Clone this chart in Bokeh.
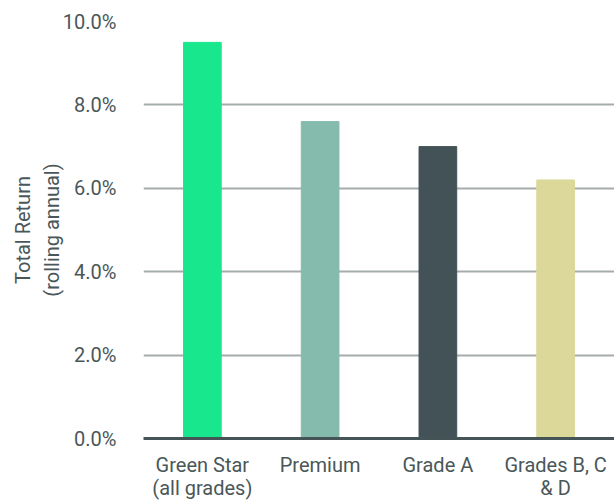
from bokeh.plotting import figure
from bokeh.models import (FactorRange, Range1d, SingleIntervalTicker, ColumnDataSource,
                          CategoricalAxis)
from bokeh.embed import file_html
from bokeh.resources import INLINE

categories = ["Green Star", "Premium", "Grade A", "Grades B, C"]
label_line2 = ["(all grades)", " ", "  ", "& D"]
returns = [9.5, 7.6, 7.0, 6.2]
colors = ["#19e78d", "#85bbad", "#435256", "#dbd89a"]
y_ticks = [0, 2, 4, 6, 8, 10]

FONT = "Roboto"
TEXT = "#4a5759"

src = ColumnDataSource(dict(cat=categories, val=returns, color=colors))

p = figure(x_range=FactorRange(*categories, range_padding=0), y_range=Range1d(0, 10),
           width=614, height=503, output_backend="svg", toolbar_location=None,
           min_border_left=143, min_border_right=0, min_border_top=21, min_border_bottom=65)
p.extra_x_ranges = {"line2": FactorRange(*label_line2, range_padding=0)}
p.outline_line_color = None
p.background_fill_color = "white"
p.border_fill_color = "white"

p.vbar(x="cat", top="val", width=0.32, color="color", source=src)

p.xgrid.grid_line_color = None
p.ygrid.grid_line_color = "#a5acab"
p.ygrid.grid_line_width = 2
p.ygrid.ticker = SingleIntervalTicker(interval=2)

p.yaxis.ticker = SingleIntervalTicker(interval=2)
p.yaxis.axis_line_color = None
p.yaxis.major_tick_line_color = None
p.yaxis.minor_tick_line_color = None
p.yaxis.major_label_standoff = 21
p.yaxis.axis_label = "Total Return\n(rolling annual)"
p.yaxis.axis_label_standoff = -4
p.yaxis.major_label_overrides = {t: f"{t:.1f}%" for t in y_ticks}

p.xaxis.axis_line_color = "#455457"
p.xaxis.axis_line_width = 3
p.xaxis.major_tick_line_color = None
p.xaxis.minor_tick_line_color = None
p.xaxis.major_tick_out = 0
p.xaxis.major_tick_in = 0
p.xaxis.major_label_standoff = 14

x2 = CategoricalAxis(x_range_name="line2",
                     axis_line_color=None, major_tick_line_color=None,
                     minor_tick_line_color=None, major_tick_out=0, major_tick_in=0,
                     minor_tick_out=0, major_label_standoff=-4)
p.add_layout(x2, "below")

for ax in (p.xaxis[0], x2, p.yaxis[0]):
    ax.major_label_text_font = FONT
    ax.major_label_text_font_size = "20px"
    ax.major_label_text_color = TEXT
    ax.axis_label_text_font = FONT
    ax.axis_label_text_font_size = "20px"
    ax.axis_label_text_font_style = "normal"
    ax.axis_label_text_color = TEXT

open("out.html", "w").write(file_html(p, INLINE))
